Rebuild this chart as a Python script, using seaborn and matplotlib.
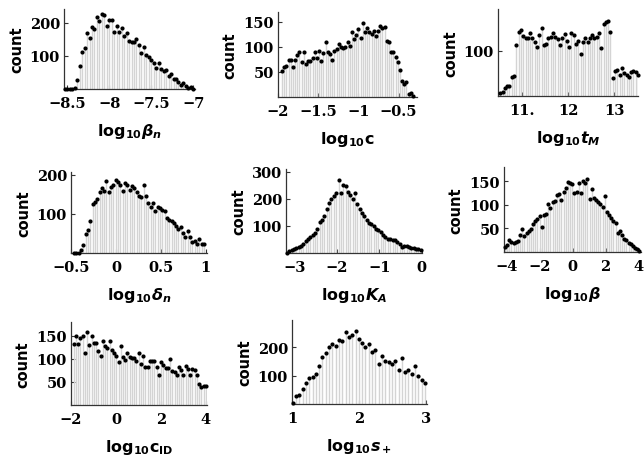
import numpy as np
import seaborn as sns
import matplotlib.pyplot as plt

# counts per bin
beta_n = [0, 0, 0, 0, 2, 27, 71, 112, 125, 168, 153, 187, 182, 217, 207, 228, 225, 192,
          210, 210, 173, 190, 171, 184, 161, 168, 146, 141, 143, 151, 133, 110, 126, 102,
          98, 87, 80, 64, 78, 59, 54, 57, 39, 44, 29, 31, 22, 13, 18, 10, 3, 5, 0]
c_vals = [52, 59, 62, 73, 73, 59, 73, 83, 90, 69, 90, 65, 72, 72, 78, 90, 77, 92, 72, 87,
          110, 89, 85, 73, 92, 95, 105, 99, 97, 99, 109, 102, 130, 115, 123, 135, 117, 147,
          129, 137, 129, 125, 132, 122, 132, 141, 137, 139, 112, 109, 90, 89, 79, 69, 53,
          32, 25, 29, 5, 7, 1]
t_M = [57, 58, 61, 63, 63, 71, 72, 108, 129, 132, 121, 119, 119, 126, 118, 112, 105, 123,
       136, 108, 109, 118, 120, 126, 120, 117, 108, 119, 125, 114, 105, 126, 123, 109, 114,
       96, 113, 118, 113, 118, 123, 118, 120, 126, 104, 142, 147, 149, 129, 70, 77, 78, 73,
       80, 75, 73, 71, 76, 77, 76, 73]
delta_n = [0, 0, 0, 7, 20, 48, 59, 83, 124, 130, 137, 155, 165, 159, 183, 157, 168, 174,
           186, 181, 174, 159, 179, 173, 162, 170, 165, 157, 146, 144, 173, 146, 128, 118,
           128, 107, 118, 115, 111, 107, 89, 85, 83, 76, 69, 61, 67, 50, 40, 55, 41, 28, 31,
           24, 35, 24, 23]
K_A = [0, 7, 11, 14, 17, 22, 26, 32, 44, 51, 60, 65, 75, 88, 115, 122, 137, 162, 184, 199,
       211, 223, 270, 223, 251, 246, 226, 214, 201, 221, 180, 164, 147, 137, 122, 112, 106,
       98, 88, 85, 78, 65, 60, 53, 51, 48, 48, 41, 35, 23, 26, 26, 23, 20, 17, 16, 14, 10]
beta = [11, 14, 25, 21, 19, 21, 23, 35, 49, 34, 41, 44, 48, 59, 66, 69, 76, 54, 78, 80,
        101, 94, 105, 109, 121, 123, 111, 128, 135, 148, 146, 144, 126, 128, 146, 126, 151,
        146, 155, 112, 133, 114, 111, 106, 101, 96, 118, 85, 78, 73, 66, 62, 41, 44, 35,
        28, 25, 19, 16, 12, 9, 6, 3]
c_ID = [133, 150, 133, 146, 150, 112, 159, 130, 149, 135, 135, 117, 107, 138, 127, 124,
        138, 120, 112, 107, 93, 127, 104, 98, 112, 105, 101, 102, 95, 112, 88, 107, 83, 82,
        95, 96, 96, 82, 64, 93, 86, 80, 80, 100, 73, 71, 66, 82, 75, 66, 84, 78, 66, 78,
        76, 64, 46, 38, 42, 42]
s_plus = [5, 28, 31, 51, 72, 93, 95, 105, 135, 165, 179, 200, 209, 202, 225, 221, 252, 237,
          241, 256, 229, 214, 200, 212, 183, 188, 140, 167, 151, 148, 142, 151, 121, 160,
          113, 121, 107, 132, 98, 84, 74]

# first and last bin centre of every histogram
bin_range = [(-8.53, -7.0), (-1.95, -0.32), (10.53, 13.52), (-0.467, 0.982),
             (-3.18, -0.02), (-4.1, 4.04), (-1.88, 4.0), (1.01, 2.98)]

labels = [r'$\mathrm{log}_{10}\beta_n$', r'$\mathrm{log}_{10}\mathrm{c}$',
          r'$\mathrm{log}_{10}t_M$', r'$\mathrm{log}_{10}\delta_n$',
          r'$\mathrm{log}_{10}K_A$', r'$\mathrm{log}_{10}\beta$',
          r'$\mathrm{log}_{10}\mathrm{c}_{\mathrm{ID}}$', r'$\mathrm{log}_{10}s_+$']
xticks = [[-8.5, -8, -7.5, -7], [-2, -1.5, -1, -0.5], [11, 12, 13], [-0.5, 0, 0.5, 1],
          [-3, -2, -1, 0], [-4, -2, 0, 2, 4], [-2, 0, 2, 4], [1, 2, 3]]
xticklabels = [['−8.5', '−8', '−7.5', '−7'], ['−2', '−1.5', '−1', '−0.5'],
               ['11.', '12', '13'], ['−0.5', '0', '0.5', '1'], ['−3', '−2', '−1', '0'],
               ['−4', '−2', '0', '2', '4'], ['−2', '0', '2', '4'], ['1', '2', '3']]
yticks = [[100, 200], [50, 100, 150], [100], [100, 200], [100, 200, 300],
          [50, 100, 150], [50, 100, 150], [100, 200]]

data = [beta_n, c_vals, t_M, delta_n, K_A, beta, c_ID, s_plus]

sns.set_theme(style='ticks')
plt.rcParams['font.family'] = ['DejaVu Sans']
plt.rcParams['text.color'] = 'black'
plt.rcParams['axes.labelcolor'] = 'black'
plt.rcParams['xtick.color'] = 'black'
plt.rcParams['ytick.color'] = 'black'
plt.rcParams['mathtext.fontset'] = 'custom'
plt.rcParams['mathtext.rm'] = 'DejaVu Sans:bold'
plt.rcParams['mathtext.bf'] = 'DejaVu Sans:bold'
plt.rcParams['mathtext.it'] = 'DejaVu Sans:italic:bold'

W, H = 644, 456
fig = plt.figure(figsize=(W / 100, H / 100), dpi=100)

# axes boxes in pixels: left, right, top, bottom
boxes = [(64, 195, 10, 90), (278, 417, 13, 98), (498, 638, 10, 97),
         (71, 207, 173, 254), (286, 422, 170, 254), (504, 641, 168, 253),
         (71, 207, 323, 406), (292, 427, 321, 405)]
xlims = [(-8.54, -6.98), (-1.96, -0.27), (10.48, 13.52), (-0.474, 1.015),
         (-3.2, 0.01), (-4.16, 4.14), (-1.94, 4.05), (1.0, 3.01)]
ylims = [(0, 242), (0, 169), (55, 174), (0, 207), (0, 310), (0, 180), (0, 180), (0, 295)]

for i in range(8):
    l, r, t, b = boxes[i]
    ax = fig.add_axes([l / W, 1 - b / H, (r - l) / W, (b - t) / H])
    vals = np.array(data[i])
    x = np.linspace(bin_range[i][0], bin_range[i][1], len(vals))
    if i == 2:
        ax.set_yscale('log')
    base = ylims[i][0]
    ax.vlines(x, base, vals, color='#d4d4d4', lw=1.0, zorder=1)
    sns.scatterplot(x=x, y=vals, ax=ax, color='black', s=9, linewidth=0,
                    clip_on=False, zorder=3)
    ax.set_xlim(*xlims[i])
    ax.set_ylim(*ylims[i])
    ax.set_xticks(xticks[i])
    ax.set_xticklabels(xticklabels[i])
    ax.set_yticks(yticks[i])
    ax.set_yticklabels([str(v) for v in yticks[i]])
    ax.minorticks_off()
    for lab in ax.get_xticklabels() + ax.get_yticklabels():
        lab.set_family('DejaVu Serif')
        lab.set_fontweight('bold')
        lab.set_fontsize(10.5)
        lab.set_color('black')
    ax.tick_params(direction='in', length=3, width=0.8, color='#333333')
    ax.tick_params(axis='x', pad=5)
    ax.tick_params(axis='y', pad=3)
    sns.despine(ax=ax)
    for sp in ['left', 'bottom']:
        ax.spines[sp].set_color('#333333')
        ax.spines[sp].set_linewidth(0.9)
    ax.set_xlabel(labels[i], fontsize=11.5, labelpad=8, color='black')
    ax.set_ylabel('count', fontsize=10.5, fontweight='bold', labelpad=4, color='black')

fig.savefig('out.png', dpi=100)
